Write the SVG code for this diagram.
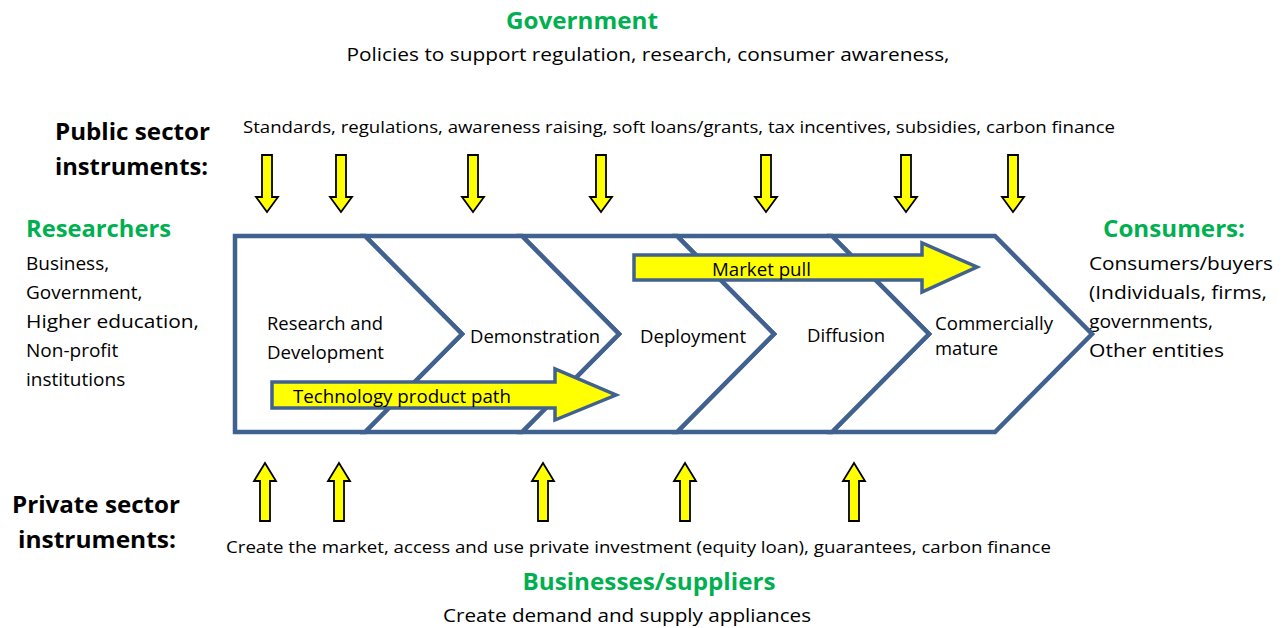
<svg xmlns="http://www.w3.org/2000/svg" width="1284" height="628" viewBox="0 0 1284 628">
<style>
text{font-family:"Open Sans","Noto Sans","Liberation Sans",sans-serif;fill:#000}
.g{fill:#00B050;font-weight:bold;font-size:23px}
.h{font-weight:bold;font-size:23px}
.n{font-size:18px}
.m{font-size:19px}
.s{font-size:16px}
.chev{fill:#fff;stroke:#41618F;stroke-width:4.5;stroke-linejoin:miter}
.big{fill:#FFFF00;stroke:#41618F;stroke-width:3.5}
.ya{fill:#FFFF00;stroke:#000;stroke-width:1.8}
</style>
<defs>
<path id="down" d="M-5,0 H5 V42 H11 L0,57 L-11,42 H-5 Z"/>
<path id="up" d="M-5,58 H5 V18 H11 L0,0 L-11,18 H-5 Z"/>
</defs>
<g id="government">
<text class="g" x="582" y="29" text-anchor="middle" textLength="152" lengthAdjust="spacingAndGlyphs">Government</text>
<text class="m" x="648" y="61" text-anchor="middle" textLength="603" lengthAdjust="spacingAndGlyphs">Policies to support regulation, research, consumer awareness,</text>
</g>
<g id="public">
<text class="h" x="55" y="140" textLength="155" lengthAdjust="spacingAndGlyphs">Public sector</text>
<text class="h" x="55" y="175" textLength="153" lengthAdjust="spacingAndGlyphs">instruments:</text>
<text class="s" x="243" y="133" textLength="872" lengthAdjust="spacingAndGlyphs">Standards, regulations, awareness raising, soft loans/grants, tax incentives, subsidies, carbon finance</text>
</g>
<g id="researchers">
<text class="g" x="26" y="237" textLength="145" lengthAdjust="spacingAndGlyphs">Researchers</text>
<text class="m" x="26" y="270">Business,</text>
<text class="m" x="26" y="299">Government,</text>
<text class="m" x="26" y="328" textLength="173" lengthAdjust="spacingAndGlyphs">Higher education,</text>
<text class="m" x="26" y="357">Non-profit</text>
<text class="m" x="26" y="386">institutions</text>
</g>
<g id="consumers">
<text class="g" x="1103" y="237" textLength="142" lengthAdjust="spacingAndGlyphs">Consumers:</text>
<text class="m" x="1089" y="270" textLength="184" lengthAdjust="spacingAndGlyphs">Consumers/buyers</text>
<text class="m" x="1089" y="299" textLength="178" lengthAdjust="spacingAndGlyphs">(Individuals, firms,</text>
<text class="m" x="1089" y="328" textLength="124" lengthAdjust="spacingAndGlyphs">governments,</text>
<text class="m" x="1089" y="357" textLength="135" lengthAdjust="spacingAndGlyphs">Other entities</text>
</g>
<g id="stage5">
<polygon class="chev" points="832,236 995,236 1092,334 995,432 832,432 929,334"/>
<text class="n" x="935" y="330" textLength="118" lengthAdjust="spacingAndGlyphs">Commercially</text>
<text class="n" x="935" y="355" textLength="63" lengthAdjust="spacingAndGlyphs">mature</text>
</g>
<g id="stage4">
<polygon class="chev" points="677,236 832,236 929,334 832,432 677,432 774,334"/>
<text class="n" x="807" y="342" textLength="78" lengthAdjust="spacingAndGlyphs">Diffusion</text>
</g>
<g id="stage3">
<polygon class="chev" points="522,236 677,236 774,334 677,432 522,432 619,334"/>
<text class="n" x="640" y="343" textLength="106" lengthAdjust="spacingAndGlyphs">Deployment</text>
</g>
<g id="stage2">
<polygon class="chev" points="365,236 522,236 619,334 522,432 365,432 462,334"/>
<text class="n" x="470" y="343" textLength="130" lengthAdjust="spacingAndGlyphs">Demonstration</text>
</g>
<g id="stage1">
<polygon class="chev" points="235,236 365,236 462,334 365,432 235,432"/>
<text class="n" x="267" y="330" textLength="116" lengthAdjust="spacingAndGlyphs">Research and</text>
<text class="n" x="267" y="359" textLength="117" lengthAdjust="spacingAndGlyphs">Development</text>
</g>
<g id="connectors">
<g id="tech-path">
<polygon class="big" points="272,382 555,382 555,369 616,395 555,420 555,408 272,408"/>
<text class="n" x="293" y="403" textLength="218" lengthAdjust="spacingAndGlyphs">Technology product path</text>
</g>
<g id="market-pull">
<polygon class="big" points="634,255 922,255 922,243 977,267 922,292 922,280 634,280"/>
<text class="n" x="712" y="276" textLength="99" lengthAdjust="spacingAndGlyphs">Market pull</text>
</g>
<g id="down-arrows">
<use href="#down" class="ya" x="267" y="155"/>
<use href="#down" class="ya" x="341" y="155"/>
<use href="#down" class="ya" x="473" y="155"/>
<use href="#down" class="ya" x="601" y="155"/>
<use href="#down" class="ya" x="766" y="155"/>
<use href="#down" class="ya" x="906" y="155"/>
<use href="#down" class="ya" x="1013" y="155"/>
</g>
<g id="up-arrows">
<use href="#up" class="ya" x="265" y="463"/>
<use href="#up" class="ya" x="339" y="463"/>
<use href="#up" class="ya" x="543" y="463"/>
<use href="#up" class="ya" x="685" y="463"/>
<use href="#up" class="ya" x="854" y="463"/>
</g>
</g>
<g id="private">
<text class="h" x="12" y="513" textLength="168" lengthAdjust="spacingAndGlyphs">Private sector</text>
<text class="h" x="18" y="548" textLength="158" lengthAdjust="spacingAndGlyphs">instruments:</text>
<text class="s" x="226" y="553" textLength="825" lengthAdjust="spacingAndGlyphs">Create the market, access and use private investment (equity loan), guarantees, carbon finance</text>
</g>
<g id="businesses">
<text class="g" x="649" y="590" text-anchor="middle" textLength="253" lengthAdjust="spacingAndGlyphs">Businesses/suppliers</text>
<text class="m" x="627" y="622" text-anchor="middle" textLength="368" lengthAdjust="spacingAndGlyphs">Create demand and supply appliances</text>
</g>
</svg>
